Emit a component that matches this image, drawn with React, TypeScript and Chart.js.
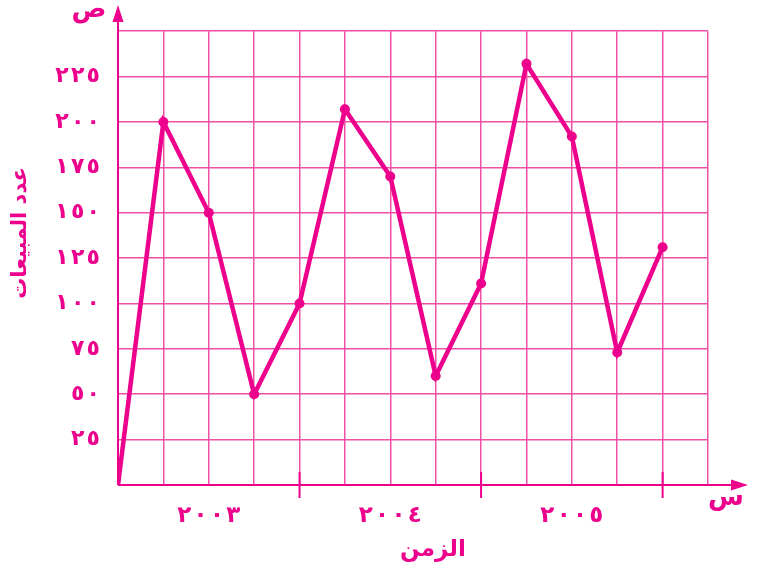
import React, { useEffect, useRef } from "react";
import { Chart, registerables } from "chart.js";

Chart.register(...registerables);

// ---- data ----
const periods = [0, 1, 2, 3, 4, 5, 6, 7, 8, 9, 10, 11, 12];
const sales = [0, 200, 150, 50, 100, 207, 170, 60, 111, 232, 192, 73, 131];
const yearLabels = ["٢٠٠٣", "٢٠٠٤", "٢٠٠٥"];
const yearCenters = [2, 6, 10];
const yearBoundaries = [4, 8, 12];
const yTickValues = [25, 50, 75, 100, 125, 150, 175, 200, 225];
const yTitle = "عدد المبيعات";
const xTitle = "الزمن";
const yAxisLetter = "ص";
const xAxisLetter = "س";

const MAG = "#ec008c";
const GRID = "#f14fa6";
const FONT = "'DejaVu Sans', sans-serif";

const AR_DIGITS = "٠١٢٣٤٥٦٧٨٩";
const toArabic = (n: number) =>
  String(n)
    .split("")
    .map((d) => AR_DIGITS[Number(d)])
    .join("");
// force left-to-right order and spread the digits a little
const spaced = (s: string) => "\u202D" + s.split("").join("\u200A") + "\u202C";

const axesPlugin = {
  id: "axesDecor",
  afterDraw(chart: any) {
    const { ctx, chartArea, scales } = chart;
    const x0 = chartArea.left;
    const y0 = chartArea.bottom;
    ctx.save();
    ctx.strokeStyle = MAG;
    ctx.fillStyle = MAG;
    ctx.lineWidth = 2;
    // y axis with arrow
    ctx.beginPath();
    ctx.moveTo(x0, y0);
    ctx.lineTo(x0, 20);
    ctx.stroke();
    ctx.beginPath();
    ctx.moveTo(x0, 5);
    ctx.lineTo(x0 - 5.5, 22);
    ctx.lineTo(x0 + 5.5, 22);
    ctx.closePath();
    ctx.fill();
    // x axis with arrow
    ctx.beginPath();
    ctx.moveTo(x0, y0);
    ctx.lineTo(735, y0);
    ctx.stroke();
    ctx.beginPath();
    ctx.moveTo(748, y0);
    ctx.lineTo(731, y0 - 5.5);
    ctx.lineTo(731, y0 + 5.5);
    ctx.closePath();
    ctx.fill();
    // year boundary marks
    yearBoundaries.forEach((b) => {
      const px = scales.x.getPixelForValue(b);
      ctx.beginPath();
      ctx.moveTo(px, y0 - 13);
      ctx.lineTo(px, y0 + 13);
      ctx.stroke();
    });
    // axis letters
    ctx.textAlign = "center";
    ctx.textBaseline = "middle";
    ctx.font = `bold 26px ${FONT}`;
    ctx.fillText(yAxisLetter, 89, 10);
    ctx.fillText(xAxisLetter, 726, 498);
    // titles
    ctx.font = `bold 23px ${FONT}`;
    ctx.fillText(xTitle, 433, 550);
    ctx.font = `bold 21px ${FONT}`;
    ctx.save();
    ctx.translate(21, 233);
    ctx.rotate(-Math.PI / 2);
    ctx.fillText(yTitle, 0, 0);
    ctx.restore();
    ctx.restore();
  },
};

export default function App() {
  const ref = useRef<HTMLCanvasElement | null>(null);

  useEffect(() => {
    if (!ref.current) return;
    const chart = new Chart(ref.current, {
      type: "line",
      data: {
        datasets: [
          {
            data: periods.map((p, i) => ({ x: p, y: sales[i] })),
            borderColor: MAG,
            backgroundColor: MAG,
            borderWidth: 4.5,
            pointRadius: (c: any) => (c.dataIndex === 0 ? 0 : 5),
            pointBackgroundColor: MAG,
            pointBorderWidth: 0,
            tension: 0,
          },
        ],
      },
      options: {
        animation: false,
        responsive: false,
        layout: { padding: { top: 31, right: 50, left: 0, bottom: 0 } },
        plugins: { legend: { display: false }, tooltip: { enabled: false } },
        scales: {
          x: {
            type: "linear",
            min: 0,
            max: 13,
            afterFit: (s: any) => {
              s.height = 88;
            },
            afterBuildTicks: (s: any) => {
              s.ticks = periods.concat([13]).map((v) => ({ value: v }));
            },
            ticks: {
              autoSkip: false,
              maxRotation: 0,
              padding: 17,
              color: MAG,
              font: { family: FONT, size: 23, weight: "bold" },
              callback: (v: any) => {
                const i = yearCenters.indexOf(Number(v));
                return i >= 0 ? spaced(yearLabels[i]) : "";
              },
            },
            grid: { color: GRID, lineWidth: 1.5, drawTicks: false },
            border: { display: false },
          },
          y: {
            min: 0,
            max: 250,
            afterFit: (s: any) => {
              s.width = 118;
            },
            ticks: {
              stepSize: 25,
              padding: 18,
              color: MAG,
              font: { family: FONT, size: 22, weight: "bold" },
              callback: (v: any) =>
                yTickValues.includes(Number(v)) ? spaced(toArabic(Number(v))) : "",
            },
            grid: { color: GRID, lineWidth: 1.5, drawTicks: false },
            border: { display: false },
          },
        },
      },
      plugins: [axesPlugin],
    } as any);
    return () => chart.destroy();
  }, []);

  return (
    <div style={{ position: "fixed", left: 0, top: 0, width: 758, height: 573, background: "#fff" }}>
      <canvas ref={ref} width={758} height={573} />
    </div>
  );
}
